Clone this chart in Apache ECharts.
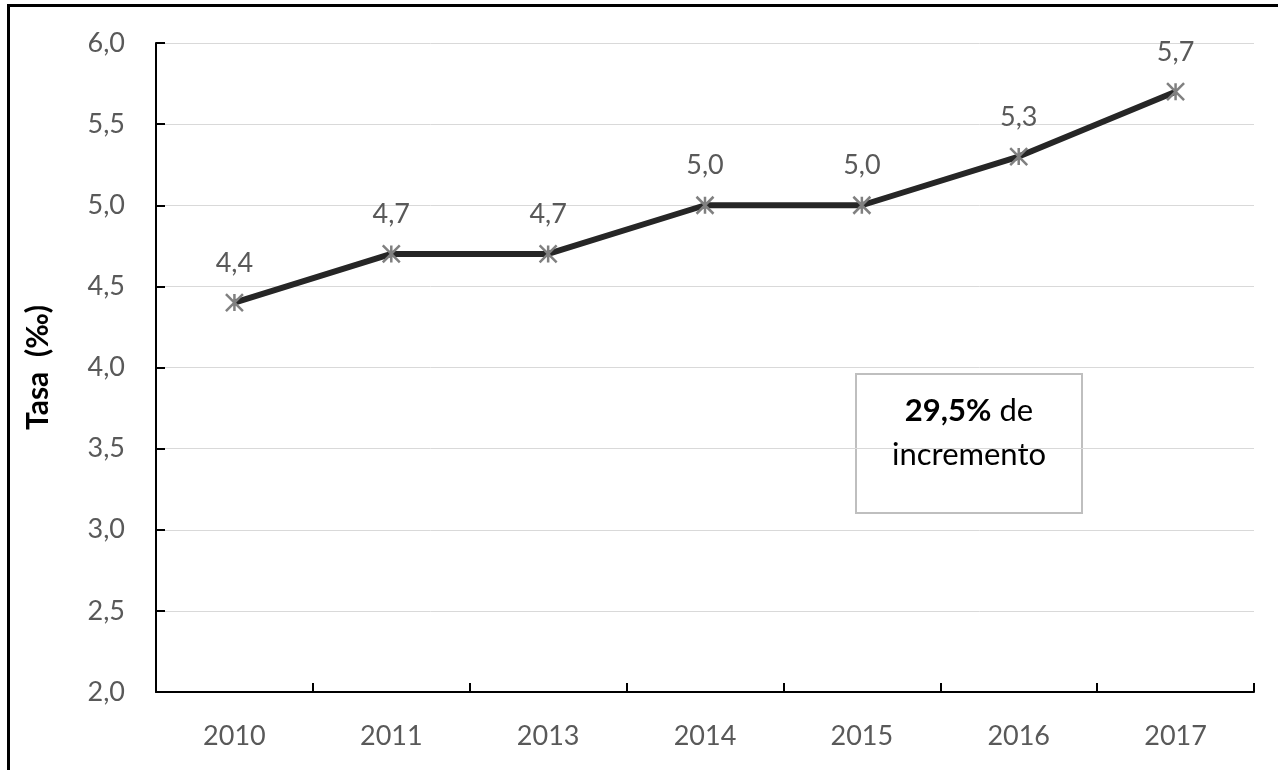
<!DOCTYPE html>
<html>
<head>
<meta charset="utf-8">
<style>
  html, body { margin: 0; padding: 0; background: #ffffff; }
  #chart { width: 1278px; height: 770px; }
</style>
<script src="https://cdn.jsdelivr.net/npm/echarts@6/dist/echarts.min.js"></script>
</head>
<body>
<div id="chart"></div>
<script>
// Tasa anual (‰), 2010–2017
const years = ['2010', '2011', '2013', '2014', '2015', '2016', '2017'];
const tasa = [4.4, 4.7, 4.7, 5.0, 5.0, 5.3, 5.7];
const yTicks = { min: 2.0, max: 6.0, step: 0.5 };
const axisTitle = 'Tasa  (‰)';
const boxBold = '29,5%';
const boxRest = ' de';
const boxLine2 = 'incremento';

const FONT = 'Lato, "Open Sans", "Liberation Sans", sans-serif';
const fmt = v => v.toFixed(1).replace('.', ',');

const chart = echarts.init(document.getElementById('chart'), null, { renderer: 'canvas' });

chart.setOption({
  backgroundColor: '#ffffff',
  animation: false,
  grid: { left: 156, right: 24, top: 43, bottom: 78, containLabel: false },
  xAxis: {
    type: 'category',
    data: years,
    boundaryGap: true,
    axisLine: { show: true, lineStyle: { color: '#000000', width: 2 } },
    axisTick: { show: true, inside: true, length: 9, lineStyle: { color: '#000000', width: 2 } },
    axisLabel: { color: '#595959', fontSize: 27, fontFamily: FONT, margin: 31 },
    splitLine: { show: false }
  },
  yAxis: {
    type: 'value',
    min: yTicks.min,
    max: yTicks.max,
    interval: yTicks.step,
    name: axisTitle,
    nameLocation: 'middle',
    nameGap: 103,
    nameRotate: 90,
    nameTextStyle: { color: '#000000', fontSize: 30, fontWeight: 'bold', fontFamily: FONT },
    axisLine: { show: true, lineStyle: { color: '#000000', width: 2 } },
    axisTick: { show: true, inside: true, length: 9, lineStyle: { color: '#000000', width: 2 } },
    axisLabel: { color: '#595959', fontSize: 27, fontFamily: FONT, margin: 31, formatter: v => fmt(v) },
    splitLine: { show: true, lineStyle: { color: '#d9d9d9', width: 1 } }
  },
  series: [{
    type: 'line',
    data: tasa,
    z: 3,
    lineStyle: { color: '#262626', width: 6 },
    symbol: 'path://M0,0L10,10M10,0L0,10M5,0L5,10',
    symbolSize: 17,
    showAllSymbol: true,
    itemStyle: { color: 'none', borderColor: '#808080', borderWidth: 2.5 },
    label: {
      show: true,
      position: 'top',
      distance: 15,
      color: '#595959',
      fontSize: 27,
      fontFamily: FONT,
      formatter: p => fmt(p.value)
    },
    emphasis: { disabled: true }
  }],
  graphic: [
    {
      type: 'rect',
      z: 100,
      silent: true,
      shape: { x: 8.5, y: 5.5, width: 1300, height: 800 },
      style: { fill: 'none', stroke: '#000000', lineWidth: 3 }
    },
    {
      type: 'group',
      left: 855,
      top: 373,
      z: 50,
      children: [
        {
          type: 'rect',
          shape: { x: 0, y: 0, width: 226, height: 139 },
          style: { fill: '#ffffff', stroke: '#bfbfbf', lineWidth: 2 }
        },
        {
          type: 'text',
          x: 113,
          y: 59,
          style: {
            text: '{b|' + boxBold + '}{r|' + boxRest + '}\n{r|' + boxLine2 + '}',
            align: 'center',
            verticalAlign: 'middle',
            rich: {
              b: { fontSize: 31, fontWeight: 'bold', fontFamily: FONT, fill: '#000000', lineHeight: 44 },
              r: { fontSize: 31, fontFamily: FONT, fill: '#000000', lineHeight: 44 }
            }
          }
        }
      ]
    }
  ]
});
</script>
</body>
</html>
